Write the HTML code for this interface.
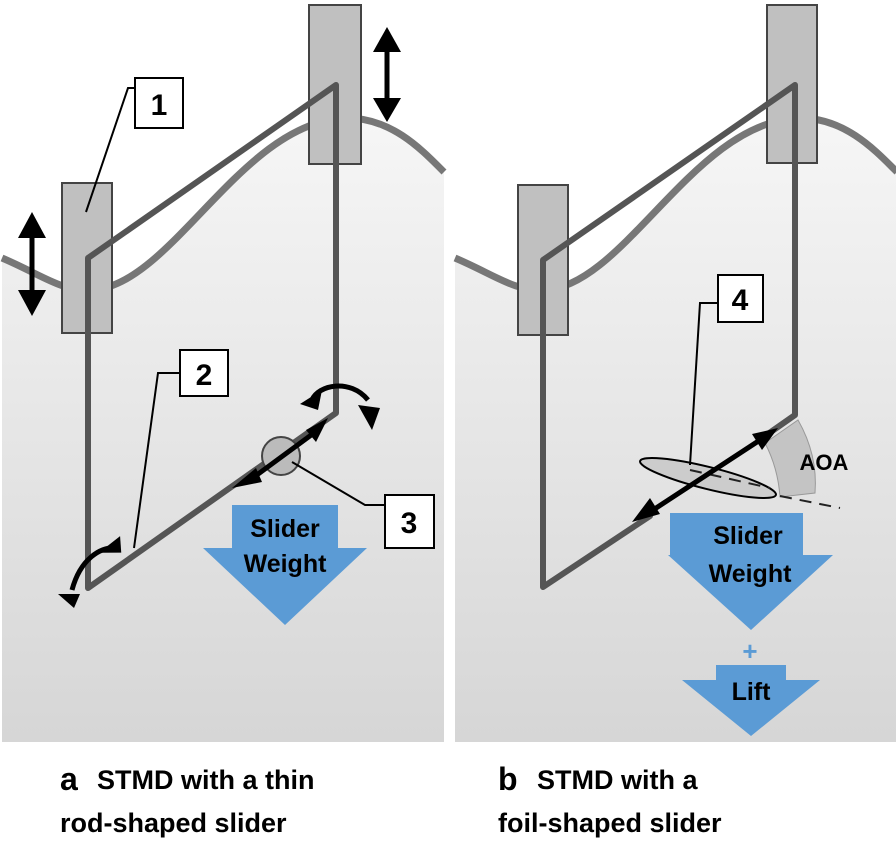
<!DOCTYPE html>
<html><head><meta charset="utf-8"><style>
body{margin:0;background:#fff;width:896px;height:846px;overflow:hidden}
svg{display:block}
text{font-family:"Liberation Sans",Arial,sans-serif;font-weight:bold}
</style></head><body>
<svg width="896" height="846" viewBox="0 0 896 846">
<defs>
<linearGradient id="g" x1="0" y1="0" x2="0" y2="1">
<stop offset="0" stop-color="#f6f6f6"/><stop offset="1" stop-color="#d6d6d6"/>
</linearGradient>
<g id="wave">
<path d="M0,258 C40,275 60,292 90,290 C170,286 240,120 345,118 C390,118 420,150 442,172 L442,742 L0,742 Z" fill="url(#g)"/>
<path d="M0,258 C40,275 60,292 90,290 C170,286 240,120 345,118 C390,118 420,150 442,172" fill="none" stroke="#777" stroke-width="7"/>
</g>
</defs>
<g transform="translate(2,0)"><use href="#wave"/></g>
<g transform="translate(455,0)"><use href="#wave"/></g>
<!-- left panel -->
<rect x="62" y="183" width="50" height="150" fill="#c0c0c0" stroke="#444" stroke-width="2"/>
<rect x="309" y="5" width="52" height="159" fill="#c0c0c0" stroke="#444" stroke-width="2"/>
<g stroke="#555" stroke-width="6" fill="none" stroke-linecap="round" stroke-linejoin="round">
<path d="M88,588 L88,258 L336,85 L336,413 L88,588"/>
</g>
<circle cx="281" cy="456" r="19" fill="#bbb" stroke="#444" stroke-width="2"/>
<!-- right panel -->
<rect x="518" y="185" width="50" height="150" fill="#c0c0c0" stroke="#444" stroke-width="2"/>
<rect x="767" y="5" width="50" height="158" fill="#c0c0c0" stroke="#444" stroke-width="2"/>
<path d="M765,443 L798,420 Q818,455 815,493 L780,497 Q778,468 765,443Z" fill="#c4c4c4" stroke="#999" stroke-width="1"/>
<g stroke="#555" stroke-width="6" fill="none" stroke-linecap="round" stroke-linejoin="round">
<path d="M650,516 L543,587 L543,260 L795,85 L795,415 L765,436"/>
</g>
<ellipse cx="708" cy="478" rx="70" ry="11" transform="rotate(14 708 478)" fill="#ccc" stroke="#000" stroke-width="2"/>
<path d="M690,470 L770,488 M780,496 L840,508" stroke="#222" stroke-width="2" stroke-dasharray="12,8"/>
<!-- arrows -->
<g stroke="#000" stroke-width="5" fill="#000">
<line x1="32" y1="230" x2="32" y2="300"/><path d="M18,238 L32,212 L46,238Z" stroke="none"/><path d="M18,290 L32,316 L46,290Z" stroke="none"/>
<line x1="387" y1="40" x2="387" y2="110"/><path d="M373,52 L387,27 L401,52Z" stroke="none"/><path d="M373,98 L387,122 L401,98Z" stroke="none"/>
<line x1="250" y1="480" x2="318" y2="430"/><path d="M232,488 L256,468 L262,482Z" stroke="none"/><path d="M328,418 L306,430 L316,442Z" stroke="none"/>
<line x1="650" y1="512" x2="760" y2="440"/><path d="M632,522 L650,498 L660,514Z" stroke="none"/><path d="M778,428 L752,434 L762,450Z" stroke="none"/>
</g>
<g fill="none" stroke="#000" stroke-width="5">
<path d="M312,400 C318,385 350,378 368,400"/>
<path d="M120,548 C100,545 80,560 72,590"/>
</g>
<g fill="#000">
<path d="M300,404 L322,390 L318,410Z"/><path d="M358,405 L380,408 L372,430Z"/>
<path d="M118,536 L122,552 L100,556Z" transform="rotate(10 118 548)"/><path d="M58,594 L80,594 L74,608Z"/>
</g>
<!-- leader lines -->
<g stroke="#000" stroke-width="2" fill="none">
<path d="M86,212 L128,88 L136,88"/>
<path d="M134,548 L158,373 L180,373"/>
<path d="M292,462 L365,505 L385,505"/>
<path d="M690,465 L700,303 L718,303"/>
</g>
<g fill="#fff" stroke="#000" stroke-width="2">
<rect x="135" y="78" width="48" height="50"/><rect x="180" y="350" width="48" height="46"/>
<rect x="385" y="495" width="49" height="53"/><rect x="718" y="275" width="45" height="47"/>
</g>
<g font-size="30" text-anchor="middle">
<text x="159" y="115">1</text><text x="204" y="385">2</text><text x="409" y="533">3</text><text x="740" y="310">4</text>
</g>
<text x="824" y="470" font-size="22" text-anchor="middle">AOA</text>
<path d="M232,505 L338,505 L338,548 L367,548 L285,625 L203,548 L232,548Z" fill="#5b9bd5"/>
<text x="285" y="537" font-size="25" text-anchor="middle">Slider</text>
<text x="285" y="572" font-size="25" text-anchor="middle">Weight</text>
<path d="M670,513 L803,513 L803,555 L833,555 L751,630 L668,555 L670,555Z" fill="#5b9bd5"/>
<text x="748" y="544" font-size="25" text-anchor="middle">Slider</text>
<text x="750" y="582" font-size="25" text-anchor="middle">Weight</text>
<text x="750" y="660" font-size="26" text-anchor="middle" fill="#5b9bd5">+</text>
<path d="M716,665 L786,665 L786,680 L820,680 L751,736 L682,680 L716,680Z" fill="#5b9bd5"/>
<text x="751" y="700" font-size="25" text-anchor="middle">Lift</text>
<!-- captions -->
<text x="60" y="790" font-size="32">a</text>
<text x="97" y="789" font-size="27">STMD with a thin</text>
<text x="60" y="832" font-size="27">rod-shaped slider</text>
<text x="498" y="790" font-size="32">b</text>
<text x="537" y="789" font-size="27">STMD with a</text>
<text x="498" y="832" font-size="27">foil-shaped slider</text>
</svg>
</body></html>
